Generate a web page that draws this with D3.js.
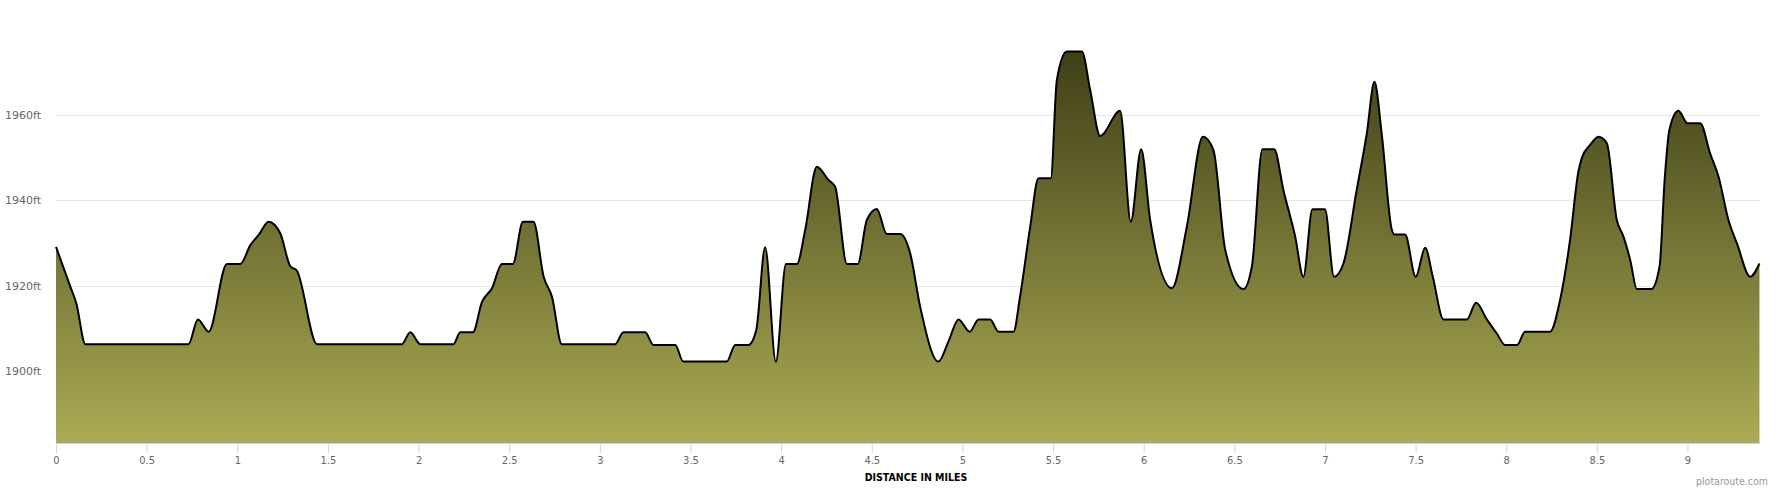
<!DOCTYPE html>
<html>
<head>
<meta charset="utf-8">
<script src="https://cdn.jsdelivr.net/npm/d3@7"></script>
<style>
  html, body { margin: 0; padding: 0; background: #fff; }
  svg { display: block; }
</style>
</head>
<body>
<svg id="chart" width="1780" height="490"></svg>
<script>
const distances = [0, 0.079, 0.112, 0.162, 0.731, 0.783, 0.842, 0.943, 1.017, 1.072, 1.118, 1.173, 1.237, 1.292, 1.329, 1.44,
  1.908, 1.954, 2.01, 2.193, 2.23, 2.30, 2.35, 2.405, 2.46, 2.52, 2.576, 2.634, 2.69, 2.736, 2.79,
  3.085, 3.13, 3.25, 3.296, 3.416, 3.46, 3.70, 3.747, 3.82, 3.863, 3.912, 3.971, 4.027, 4.087, 4.133, 4.197, 4.261, 4.298,
  4.363, 4.423, 4.473, 4.528, 4.583, 4.657, 4.712, 4.767, 4.868, 4.923, 4.979, 5.04, 5.089, 5.153, 5.2, 5.282,
  5.318, 5.374, 5.42, 5.488, 5.521, 5.576, 5.659, 5.705, 5.76, 5.87, 5.929, 5.986, 6.036, 6.156, 6.238, 6.327, 6.385,
  6.45, 6.55, 6.597, 6.655, 6.72, 6.771, 6.836, 6.881, 6.931, 7.0, 7.05, 7.102, 7.175, 7.231, 7.273, 7.313, 7.369,
  7.383, 7.442, 7.501, 7.553, 7.595, 7.654, 7.783, 7.834, 7.893, 7.948, 7.994, 8.06, 8.104, 8.242, 8.297, 8.352,
  8.398, 8.417, 8.463, 8.509, 8.555, 8.61, 8.647, 8.684, 8.721, 8.80, 8.846, 8.874, 8.9, 8.95, 9.0, 9.07, 9.125,
  9.171, 9.226, 9.273, 9.346, 9.397];
const elevations = [1929.1, 1919.8, 1915.9, 1906.3, 1906.3, 1912.1, 1909.2, 1925.1, 1925.1, 1929.5, 1931.9, 1935.0, 1932.3, 1924.6, 1923.5, 1906.3,
  1906.3, 1909.1, 1906.3, 1906.3, 1909.1, 1909.1, 1916.2, 1919.4, 1925.1, 1925.1, 1935.0, 1935.0, 1922.1, 1917.4, 1906.3,
  1906.3, 1909.1, 1909.1, 1906.1, 1906.1, 1902.2, 1902.2, 1906.1, 1906.1, 1909.6, 1929.0, 1902.2, 1925.1, 1925.1, 1933.1, 1947.9, 1944.8, 1943.2,
  1925.1, 1925.1, 1935.4, 1938.0, 1932.1, 1932.1, 1927.6, 1915.1, 1902.2, 1906.9, 1912.1, 1909.2, 1912.1, 1912.1, 1909.2, 1909.2,
  1917.4, 1933.8, 1945.2, 1945.2, 1968.2, 1974.9, 1974.9, 1965.9, 1955.1, 1961.0, 1935.0, 1952.0, 1935.4, 1919.4, 1933.8, 1954.9, 1951.8,
  1928.4, 1919.2, 1924.5, 1952.0, 1952.0, 1942.4, 1931.5, 1922.1, 1937.9, 1937.9, 1922.1, 1925.2, 1942.4, 1955.7, 1967.8, 1955.7, 1933.1,
  1932.0, 1932.0, 1922.1, 1928.9, 1922.1, 1912.1, 1912.1, 1916.0, 1912.1, 1908.8, 1906.1, 1906.1, 1909.2, 1909.2, 1916.6, 1930.7,
  1946.7, 1949.9, 1953.0, 1954.9, 1953.4, 1935.4, 1931.5, 1926.0, 1919.2, 1919.2, 1924.5, 1944.8, 1956.5, 1961.0, 1958.1, 1958.1, 1951.0,
  1945.6, 1935.4, 1929.9, 1922.1, 1925.2];
const xTicks = [0, 0.5, 1, 1.5, 2, 2.5, 3, 3.5, 4, 4.5, 5, 5.5, 6, 6.5, 7, 7.5, 8, 8.5, 9];
const yTicks = [1900, 1920, 1940, 1960];
const xTitle = "DISTANCE IN MILES";
const credit = "plotaroute.com";

const data = distances.map((d, i) => ({ x: d, y: elevations[i] }));

const plotLeft = 56, plotRight = 1760, plotTop = 45, plotBottom = 443;
const x = d3.scaleLinear().domain([0, 9.40]).range([plotLeft, plotRight]);
const y = d3.scaleLinear().domain([1883.12, 1976.43]).range([plotBottom, plotTop]);

const svg = d3.select("#chart");

const defs = svg.append("defs");
const grad = defs.append("linearGradient")
  .attr("id", "fillGrad")
  .attr("gradientUnits", "userSpaceOnUse")
  .attr("x1", 0).attr("x2", 0)
  .attr("y1", y(1975)).attr("y2", plotBottom);
grad.append("stop").attr("offset", "0%").attr("stop-color", "#3f3f17");
grad.append("stop").attr("offset", "100%").attr("stop-color", "#abab55");

// grid lines
svg.append("g").selectAll("line").data(yTicks).join("line")
  .attr("x1", plotLeft).attr("x2", plotRight)
  .attr("y1", d => Math.round(y(d)) + 0.5).attr("y2", d => Math.round(y(d)) + 0.5)
  .attr("stroke", "#e6e6e6").attr("stroke-width", 1);

// y labels
svg.append("g").selectAll("text").data(yTicks).join("text")
  .attr("x", 41).attr("y", d => y(d) + 4)
  .attr("text-anchor", "end")
  .attr("font-family", "DejaVu Sans, sans-serif")
  .attr("font-size", "11px")
  .attr("fill", "#666")
  .text(d => d + "ft");

const curve = d3.curveMonotoneX;
const area = d3.area().x(d => x(d.x)).y0(plotBottom).y1(d => y(d.y)).curve(curve);
const line = d3.line().x(d => x(d.x)).y(d => y(d.y)).curve(curve);

svg.append("path").datum(data).attr("d", area).attr("fill", "url(#fillGrad)");
svg.append("path").datum(data).attr("d", line)
  .attr("fill", "none").attr("stroke", "#000").attr("stroke-width", 2).attr("stroke-linejoin", "round");

// x axis
const xAxis = d3.axisBottom(x).tickValues(xTicks).tickSize(10).tickPadding(3)
  .tickFormat(d => d3.format("")(d));
const gx = svg.append("g").attr("transform", `translate(0,${plotBottom})`).call(xAxis);
gx.select(".domain").attr("stroke", "#ccd6eb").attr("d", `M${plotLeft},0.5H${plotRight}`);
gx.selectAll(".tick line").attr("stroke", "#ccd6eb");
gx.selectAll(".tick text")
  .attr("font-family", "DejaVu Sans Condensed, Liberation Sans Narrow, sans-serif")
  .attr("font-size", "11px").attr("fill", "#666");

svg.append("text")
  .attr("x", (plotLeft + plotRight) / 2 + 8).attr("y", 481)
  .attr("text-anchor", "middle")
  .attr("font-family", "DejaVu Sans Condensed, Liberation Sans Narrow, sans-serif")
  .attr("font-weight", "bold").attr("font-size", "10.5px").attr("fill", "#000")
  .text(xTitle);

svg.append("text")
  .attr("x", 1768).attr("y", 485)
  .attr("text-anchor", "end")
  .attr("font-family", "DejaVu Sans Condensed, sans-serif")
  .attr("font-size", "10.5px").attr("fill", "#999")
  .text(credit);
</script>
</body>
</html>
